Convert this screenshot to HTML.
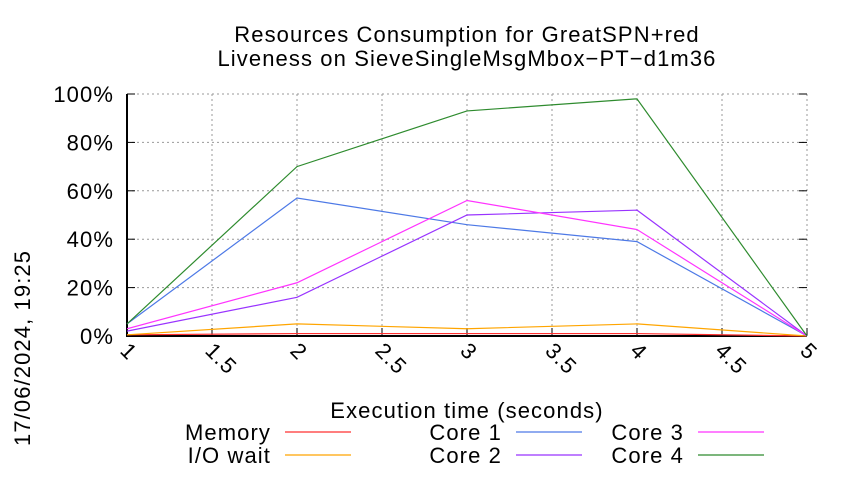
<!DOCTYPE html>
<html><head><meta charset="utf-8"><style>
body{margin:0;background:#fff;}
svg{font-family:"Liberation Sans",sans-serif;}
svg text{letter-spacing:1.1px;}
</style></head><body>
<svg id="chart" width="850" height="475" viewBox="0 0 850 475">
<text x="467" y="42" font-size="22" text-anchor="middle">Resources Consumption for GreatSPN+red</text>
<text x="467" y="66" font-size="22" text-anchor="middle">Liveness on SieveSingleMsgMbox−PT−d1m36</text>
<g id="grid"></g><g id="axes"></g><g id="series"></g>
<text x="467" y="418" font-size="22" text-anchor="middle">Execution time (seconds)</text>
<text transform="translate(30,446) rotate(-90)" font-size="22">17/06/2024, 19:25</text>
<g id="legend"></g>
</svg>
<script>
const xs=[1,2,3,4,5];
const memory=[0.5,1,1,1,0];
const iowait=[0.5,5,3,5,0];
const core1=[5,57,46,39,0];
const core2=[2,16,50,52,0];
const core3=[3,22,56,44,0];
const core4=[5,70,93,98,0];
const xTicks=[1,1.5,2,2.5,3,3.5,4,4.5,5];
const yTicks=[0,20,40,60,80,100];
const L=127,R=807,T=94,B=336;
const X=v=>L+(v-1)/4*(R-L), Y=v=>B-v/100*(B-T);
const NS="http://www.w3.org/2000/svg";
function mk(p,t,a){const e=document.createElementNS(NS,t);for(const k in a)e.setAttribute(k,a[k]);document.getElementById(p).appendChild(e);return e;}
yTicks.forEach(v=>{
 const g=mk('grid','line',{x1:L,x2:R,y1:Y(v),y2:Y(v),stroke:'#999','stroke-dasharray':'2,3'});
 
 
 const t=mk('axes','text',{x:L-13,y:Y(v)+8,'font-size':22,'text-anchor':'end'});
 
 
 t.textContent=v+'%';
 mk('axes','line',{x1:L,x2:L+8,y1:Y(v),y2:Y(v),stroke:'#000'});
 mk('axes','line',{x1:R,x2:R-8,y1:Y(v),y2:Y(v),stroke:'#000'});
});
xTicks.forEach(v=>{
 const g=mk('grid','line',{x1:X(v),x2:X(v),y1:T,y2:B,stroke:'#999','stroke-dasharray':'2,3'});
 
 
 mk('axes','line',{x1:X(v),x2:X(v),y1:B,y2:B-8,stroke:'#000'});
 const t=mk('axes','text',{transform:`translate(${X(v)-8},${B+16}) rotate(45)`,'font-size':22});
 
 
 t.textContent=v;
});
mk('axes','path',{d:`M${L},${T}V${B}H${R}`,fill:'none',stroke:'#000','stroke-width':2});
const series=[['Memory',memory,'#ff3030'],['I/O wait',iowait,'#ffa500'],['Core 1',core1,'#4d79e6'],['Core 2',core2,'#9933ff'],['Core 3',core3,'#ff33ff'],['Core 4',core4,'#2e8b2e']];
series.forEach(([n,d,c])=>{
 const p=mk('series','polyline',{points:d.map((v,i)=>X(xs[i])+','+Y(v)).join(' '),fill:'none',stroke:c,'stroke-width':1.2});
 
 
});
const lpos=[[271,432],[271,455],[502,432],[502,455],[684,432],[684,455]];
series.forEach(([n,d,c],i)=>{
 const [x,y]=lpos[i];
 const t=mk('legend','text',{x:x,y:y+8,'font-size':22,'text-anchor':'end'});
 
 
 t.textContent=n;
 const l=mk('legend','line',{x1:x+14,x2:x+80,y1:y,y2:y,stroke:c,'stroke-width':1.2});
 
 
});
</script>
</body></html>
